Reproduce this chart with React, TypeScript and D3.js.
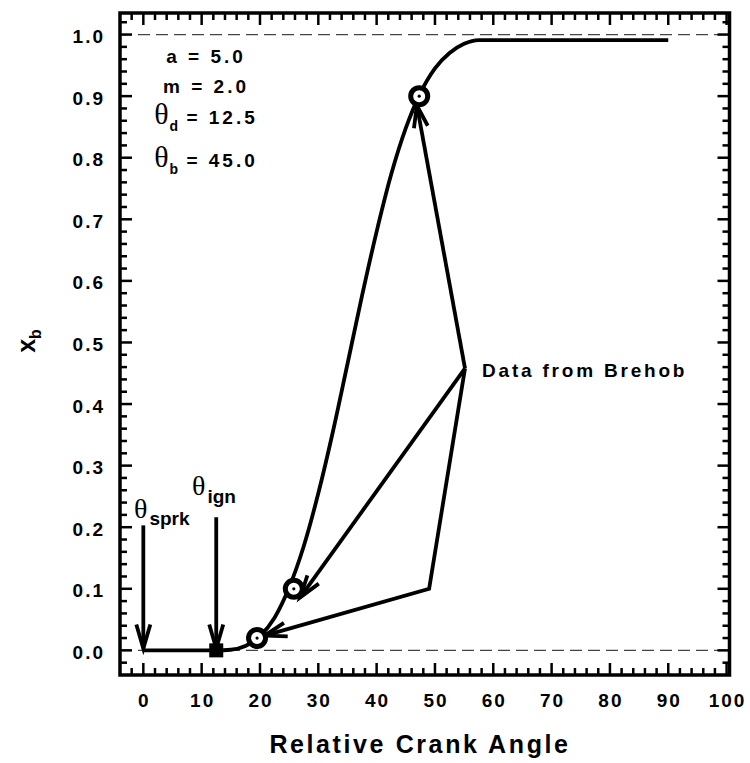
import React from "react";
import * as d3 from "d3";

// Wiebe burn-fraction curve
const crankAngle = [0, 12.5, 15, 17.5, 20, 22.5, 25, 27.5, 30, 32.5, 35, 37.5, 40, 42.5, 45, 47.5, 50, 52.5, 55, 57.5, 90];
const burnFraction = [0, 0, 0.001, 0.007, 0.023, 0.053, 0.102, 0.169, 0.255, 0.355, 0.465, 0.576, 0.68, 0.773, 0.848, 0.905, 0.945, 0.97, 0.985, 0.991, 0.991];

// Data from Brehob
const brehobAngle = [19.5, 25.8, 47.3];
const brehobXb = [0.02, 0.1, 0.9];

// ignition marker
const ignAngle = [12.5];
const ignXb = [0];

// annotation arrows from the label (data coords), tip at last point
const annotArrows: [number, number][][] = [
  [[55.15, 0.458], [46.9, 0.885]],
  [[55.15, 0.458], [26.9, 0.086]],
  [[55.15, 0.458], [49.0, 0.1], [20.8, 0.024]],
];

// vertical arrows for spark / ignition
const markerArrowAngle = [0, 12.5];
const markerArrowTop = [0.203, 0.216];
const markerArrowTip = [0.003, 0.003];

const xMajorTicks = d3.range(0, 101, 10);
const xMinorTicks = d3.range(-2, 101, 2);
const yMajorTicks = d3.range(0, 11, 1).map((v) => v / 10);
const yMinorTicks = d3.range(-1, 52, 1).map((v) => v / 50);

const params = [
  { sym: "", sub: "", text: "a = 5.0" },
  { sym: "", sub: "", text: "m = 2.0" },
  { sym: "θ", sub: "d", text: " = 12.5" },
  { sym: "θ", sub: "b", text: " = 45.0" },
];

const W = 750;
const H = 763;
const L = 120, R = 729.5, T = 13, B = 675;

const SANS = "'Liberation Sans', Arial, Helvetica, sans-serif";
const SERIF = "'Liberation Serif', 'Times New Roman', serif";

export default function App() {
  const x = d3.scaleLinear().domain([-4, 100.5]).range([L, R]);
  const y = d3.scaleLinear().domain([-0.04, 1.035]).range([B, T]);

  const line = d3
    .line<number>()
    .x((_, i) => x(crankAngle[i]))
    .y((d) => y(d))
    .curve(d3.curveMonotoneX);

  const arrowHead = (tx: number, ty: number, fx: number, fy: number, len = 22, hw = 7) => {
    const dx = fx - tx, dy = fy - ty;
    const d = Math.hypot(dx, dy);
    const ux = dx / d, uy = dy / d;
    const px = -uy, py = ux;
    const bx = tx + ux * len, by = ty + uy * len;
    return `M${bx + px * hw},${by + py * hw}L${tx},${ty}L${bx - px * hw},${by - py * hw}`;
  };

  const tickW = 2.5;
  const maj = 12, min = 7;

  const paramY = [63, 93, 124, 167];

  return (
    <svg width={W} height={H} style={{ position: "absolute", left: 0, top: 0, background: "#fff" }}>
      <rect x={0} y={0} width={W} height={H} fill="#fff" />
      {/* dashed reference lines */}
      {[0, 1].map((v) => (
        <line key={"dash" + v} x1={L} x2={R} y1={y(v)} y2={y(v)} stroke="#444" strokeWidth={1.3} strokeDasharray="12,6" />
      ))}

      {/* ticks */}
      <g stroke="#000" strokeWidth={tickW}>
        {xMinorTicks.map((t) => {
          const len = t % 10 === 0 ? maj : min;
          return (
            <g key={"xt" + t}>
              <line x1={x(t)} x2={x(t)} y1={B} y2={B - len} />
              <line x1={x(t)} x2={x(t)} y1={T} y2={T + len} />
            </g>
          );
        })}
        {yMinorTicks.map((t, i) => {
          const len = (i - 1) % 5 === 0 ? maj : min;
          return (
            <g key={"yt" + i}>
              <line x1={L} x2={L + len} y1={y(t)} y2={y(t)} />
              <line x1={R} x2={R - len} y1={y(t)} y2={y(t)} />
            </g>
          );
        })}
      </g>

      {/* frame */}
      <rect x={L} y={T} width={R - L} height={B - T} fill="none" stroke="#000" strokeWidth={3.5} />

      {/* tick labels */}
      <g fontFamily={SANS} fontWeight="bold" fontSize={19} letterSpacing={2} fill="#000">
        {xMajorTicks.map((t) => (
          <text key={"xl" + t} x={x(t) + 1} y={707} textAnchor="middle">
            {t}
          </text>
        ))}
        {yMajorTicks.map((t) => (
          <text key={"yl" + t} x={105} y={y(t) + 8.5} textAnchor="end">
            {t.toFixed(1)}
          </text>
        ))}
      </g>

      {/* axis titles */}
      <text x={420} y={753} textAnchor="middle" fontFamily={SANS} fontWeight="bold" fontSize={25} letterSpacing={2.6}>
        Relative Crank Angle
      </text>
      <text transform="translate(35,341) rotate(-90)" textAnchor="middle" fontFamily={SANS} fontWeight="bold" fontSize={25}>
        x
        <tspan fontSize={16} dy={6}>
          b
        </tspan>
      </text>

      {/* curve */}
      <path d={line(burnFraction) || ""} fill="none" stroke="#000" strokeWidth={3.8} strokeLinejoin="round" />

      {/* annotation arrows */}
      <g fill="none" stroke="#000" strokeWidth={3.8} strokeLinejoin="miter" strokeLinecap="butt">
        {annotArrows.map((pts, i) => {
          const sp = pts.map((p) => [x(p[0]), y(p[1])]);
          const d = "M" + sp.map((p) => p.join(",")).join("L");
          const tip = sp[sp.length - 1];
          const prev = sp[sp.length - 2];
          return (
            <g key={"aa" + i}>
              <path d={d} />
              <path d={arrowHead(tip[0], tip[1], prev[0], prev[1])} />
            </g>
          );
        })}
        {markerArrowAngle.map((a, i) => (
          <g key={"ma" + i}>
            <line x1={x(a)} x2={x(a)} y1={y(markerArrowTop[i])} y2={y(markerArrowTip[i])} />
            <path d={arrowHead(x(a), y(markerArrowTip[i]), x(a), y(markerArrowTop[i]), 24, 7)} />
          </g>
        ))}
      </g>

      {/* data markers */}
      {brehobAngle.map((a, i) => (
        <g key={"bm" + i}>
          <circle cx={x(a)} cy={y(brehobXb[i])} r={8.5} fill="#fff" stroke="#000" strokeWidth={5} />
          <circle cx={x(a)} cy={y(brehobXb[i])} r={1.6} fill="#000" />
        </g>
      ))}
      {ignAngle.map((a, i) => (
        <rect key={"ig" + i} x={x(a) - 7} y={y(ignXb[i]) - 7} width={14} height={14} fill="#000" />
      ))}

      {/* annotation texts */}
      <text x={482} y={377} fontFamily={SANS} fontWeight="bold" fontSize={19} letterSpacing={2.8}>
        Data from Brehob
      </text>

      <text x={134} y={518} fontFamily={SERIF} fontSize={28}>
        θ
        <tspan fontFamily={SANS} fontWeight="bold" fontSize={19} dy={7} dx={2}>
          sprk
        </tspan>
      </text>
      <text x={192} y={495} fontFamily={SERIF} fontSize={28}>
        θ
        <tspan fontFamily={SANS} fontWeight="bold" fontSize={19} dy={8} dx={2}>
          ign
        </tspan>
      </text>

      {params.map((p, i) => (
        <text key={"p" + i} x={206} y={paramY[i]} textAnchor="middle" fontFamily={SANS} fontWeight="bold" fontSize={19} letterSpacing={3}>
          {p.sym ? (
            <>
              <tspan fontFamily={SERIF} fontWeight="normal" fontSize={30} letterSpacing={0}>
                {p.sym}
              </tspan>
              <tspan fontSize={14} dy={7} dx={1} letterSpacing={0}>
                {p.sub}
              </tspan>
              <tspan dy={-7}>{p.text}</tspan>
            </>
          ) : (
            p.text
          )}
        </text>
      ))}
    </svg>
  );
}
